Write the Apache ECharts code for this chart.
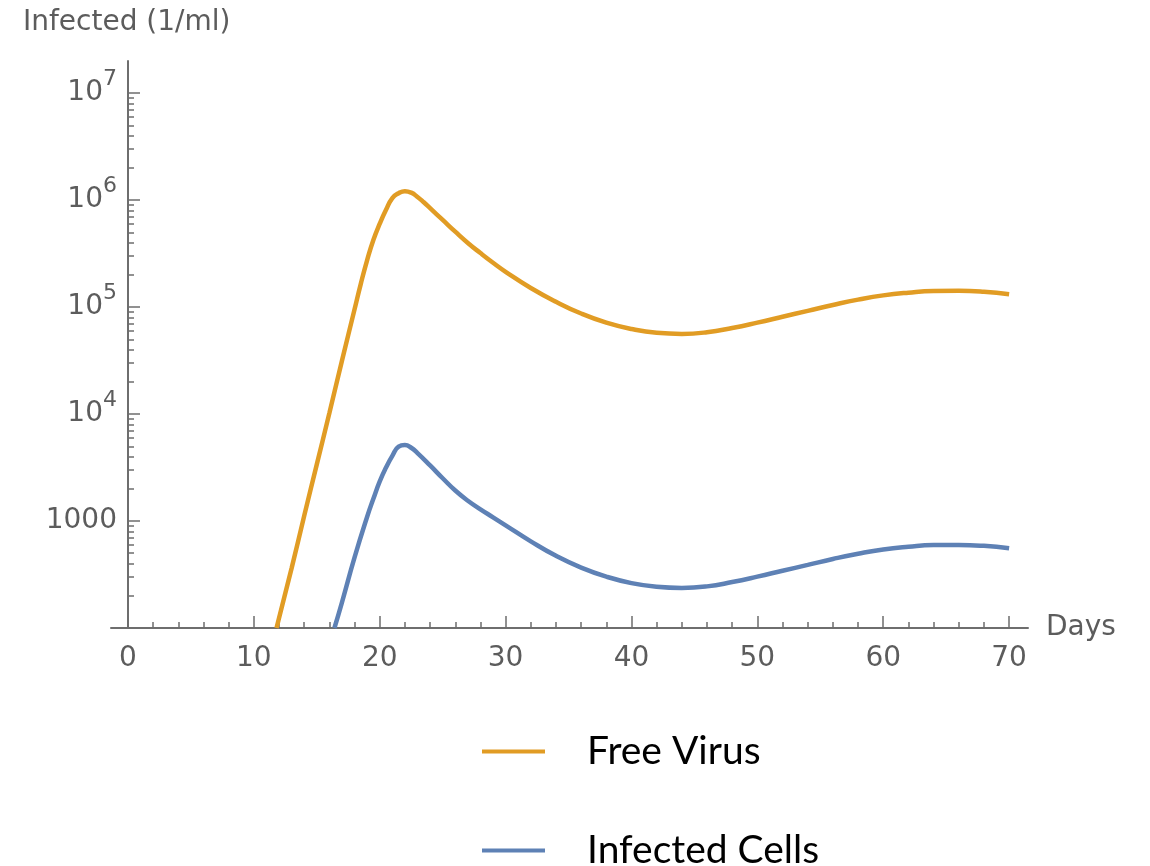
<!DOCTYPE html>
<html>
<head>
<meta charset="utf-8">
<script src="https://cdn.jsdelivr.net/npm/echarts@6/dist/echarts.min.js"></script>
<style>
  html, body { margin: 0; padding: 0; background: #ffffff; }
  #chart { width: 1150px; height: 866px; }
</style>
</head>
<body>
<div id="chart"></div>
<script>
// Free virus concentration over time (per ml)
const virusDays = [11.8, 13, 14, 15, 16, 17, 18, 18.5, 19, 19.5, 20, 20.5, 21, 21.5, 22, 22.5, 23, 23.5, 24, 25, 26, 27, 28, 29, 30,
  32, 34, 36, 38, 40, 42, 44, 46, 48, 50, 52, 54, 56, 58, 60, 62, 64, 66, 68, 70];
const freeVirus = [100, 363, 1122, 3388, 10230, 31620, 95500, 166000, 275400, 426600, 602600, 812800, 1047000, 1161000, 1213000,
  1175000, 1072000, 955000, 841000, 653000, 507000, 398000, 320000, 260000, 214000,
  151000, 112200, 87100, 71600, 62400, 57500, 56200, 58200, 63800, 71600, 81300, 92300, 104700, 117500,
  128800, 136500, 141300, 141900, 139000, 131800];

// Infected cell concentration over time (per ml)
const cellDays = [16.4, 17, 18, 19, 19.5, 20, 20.5, 21, 21.5, 22, 22.5, 23, 24, 25, 26, 27, 28, 29, 30,
  32, 34, 36, 38, 40, 42, 44, 46, 48, 50, 52, 54, 56, 58, 60, 62, 64, 66, 68, 70];
const infectedCells = [100, 174, 457, 1096, 1622, 2344, 3162, 4074, 4955, 5129, 4842, 4315, 3311, 2512, 1928, 1549, 1288, 1084, 912,
  646, 473, 367, 302, 263, 243, 237, 245, 269, 302, 343, 389, 442, 495, 543, 575, 596, 598, 586, 556];

const seriesNames = ['Free Virus', 'Infected Cells'];

// Axis ticks
const xMajorTicks = [0, 10, 20, 30, 40, 50, 60, 70];
const xMinorTicks = [];
for (let d = 2; d < 70; d += 2) if (d % 10 !== 0) xMinorTicks.push(d);
const yDecades = [2, 3, 4, 5, 6, 7];          // exponents of 10
const yLabelDecades = [3, 4, 5, 6, 7];
const yMinorTicks = [];
yDecades.forEach(e => { for (let k = 2; k <= 9; k++) { const v = e + Math.log10(k); if (v <= 7.3009) yMinorTicks.push(v); } });

const Y_MIN = 100, Y_MAX = 2e7;
const X_MIN = -1.35, X_MAX = 71.5;
const Y_AXIS_SHIFT = -17;   // puts the vertical axis at day 0

const axisGray = '#6e6e6e';
const labelGray = '#5c5c5c';
const font = 'DejaVu Sans';

const pairs = (xs, ys) => xs.map((x, i) => [x, ys[i]]);

const chart = echarts.init(document.getElementById('chart'), null, { renderer: 'canvas' });
chart.setOption({
  animation: false,
  backgroundColor: '#ffffff',
  title: {
    text: 'Infected (1/ml)',
    left: 18, top: 4,
    textStyle: { fontFamily: font, fontSize: 28, fontWeight: 'normal', color: labelGray }
  },
  legend: {
    data: seriesNames,
    orient: 'vertical',
    left: 482, top: 732, height: 200,
    padding: 0,
    icon: 'rect',
    itemWidth: 63, itemHeight: 4,
    itemGap: 60,
    textStyle: { fontFamily: 'Lato', fontSize: 39, color: '#000000', lineHeight: 34, padding: [0, 0, 0, 37] }
  },
  grid: { left: 111, top: 61, width: 917, height: 567 },
  xAxis: [
    {
      type: 'value', min: X_MIN, max: X_MAX,
      name: 'Days', nameLocation: 'end', nameGap: 18,
      nameTextStyle: { fontFamily: font, fontSize: 28, color: labelGray, verticalAlign: 'middle' },
      axisLine: { show: true, onZero: false, lineStyle: { color: axisGray, width: 2 } },
      axisTick: { show: true, inside: true, length: 12, customValues: xMajorTicks, lineStyle: { color: axisGray, width: 1.5 } },
      axisLabel: { show: true, customValues: xMajorTicks, margin: 17, fontFamily: font, fontSize: 28, color: labelGray },
      splitLine: { show: false }
    },
    {
      type: 'value', min: X_MIN, max: X_MAX, position: 'bottom',
      axisLine: { show: false, onZero: false },
      axisTick: { show: true, inside: true, length: 6, customValues: xMinorTicks, lineStyle: { color: axisGray, width: 1.5 } },
      axisLabel: { show: false },
      splitLine: { show: false }
    }
  ],
  yAxis: [
    {
      type: 'log', logBase: 10, min: Y_MIN, max: Y_MAX, position: 'left', offset: Y_AXIS_SHIFT,
      axisLine: { show: true, onZero: false, lineStyle: { color: axisGray, width: 2 } },
      axisTick: { show: false },
      axisLabel: { show: false },
      splitLine: { show: false },
      minorTick: { show: false }
    },
    {
      type: 'value', min: 2, max: Math.log10(Y_MAX), position: 'left', offset: Y_AXIS_SHIFT,
      axisLine: { show: false, onZero: false },
      axisTick: { show: true, inside: true, length: 12, customValues: yDecades, lineStyle: { color: axisGray, width: 1.5 } },
      axisLabel: {
        show: true, customValues: yLabelDecades, margin: 11,
        formatter: v => { const e = Math.round(v); return e === 3 ? '{b|1000}' : '{b|10}{s|' + e + '}'; },
        rich: {
          b: { fontFamily: font, fontSize: 28, color: labelGray, lineHeight: 50 },
          s: { fontFamily: font, fontSize: 22, color: labelGray, lineHeight: 26, verticalAlign: 'top' }
        }
      },
      splitLine: { show: false }
    },
    {
      type: 'value', min: 2, max: Math.log10(Y_MAX), position: 'left', offset: Y_AXIS_SHIFT,
      axisLine: { show: false, onZero: false },
      axisTick: { show: true, inside: true, length: 6, customValues: yMinorTicks, lineStyle: { color: axisGray, width: 1.5 } },
      axisLabel: { show: false },
      splitLine: { show: false }
    }
  ],
  series: [
    {
      name: seriesNames[0], type: 'line', xAxisIndex: 0, yAxisIndex: 0,
      data: pairs(virusDays, freeVirus),
      smooth: 0.5, showSymbol: false, symbol: 'none',
      color: '#E19C24',
      lineStyle: { color: '#E19C24', width: 4.5 },
      itemStyle: { color: '#E19C24' }
    },
    {
      name: seriesNames[1], type: 'line', xAxisIndex: 0, yAxisIndex: 0,
      data: pairs(cellDays, infectedCells),
      smooth: 0.5, showSymbol: false, symbol: 'none',
      color: '#5E81B5',
      lineStyle: { color: '#5E81B5', width: 4.5 },
      itemStyle: { color: '#5E81B5' }
    }
  ]
});
</script>
</body>
</html>
